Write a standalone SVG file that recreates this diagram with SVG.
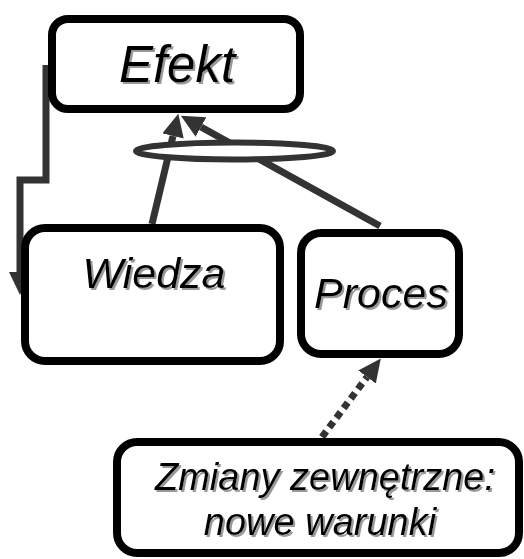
<svg xmlns="http://www.w3.org/2000/svg" width="524" height="559" viewBox="0 0 524 559">
<style>
.box{fill:#fff;stroke:#000;stroke-width:8}
.lbl{font-family:"Liberation Sans",Arial,sans-serif;font-style:italic;fill:#000;text-anchor:middle;filter:url(#sh)}
.con{fill:none;stroke:#333;stroke-width:7}
</style>
<defs>
<filter id="sh" x="-10%" y="-20%" width="130%" height="150%">
<feDropShadow dx="2" dy="2" stdDeviation="0.6" flood-color="#999" flood-opacity="1"/>
</filter>
<marker id="ah" markerUnits="userSpaceOnUse" markerWidth="24" markerHeight="24" viewBox="0 0 24 24" refX="0" refY="11" orient="auto">
<path d="M0,0 L23,11 L0,22 z" fill="#333"/>
</marker>
</defs>
<g id="connectors">
<polyline class="con" points="46,65 46,180 20,180 20,272" stroke-linejoin="miter" marker-end="url(#ah)"/>
<line class="con" x1="152" y1="224" x2="173" y2="136" marker-end="url(#ah)"/>
<line class="con" x1="380" y1="226" x2="201" y2="127" marker-end="url(#ah)"/>
<line class="con" x1="322" y1="437" x2="367" y2="377" stroke-dasharray="7 5" marker-end="url(#ah)"/>
<ellipse cx="234.5" cy="151" rx="98.5" ry="8.5" fill="#fff" stroke="#333" stroke-width="6"/>
</g>
<g id="efekt">
<rect class="box" x="52" y="19" width="248" height="90" rx="16"/>
<text class="lbl" x="177" y="82" font-size="51">Efekt</text>
</g>
<g id="wiedza">
<rect class="box" x="25" y="228" width="255" height="133" rx="20"/>
<text class="lbl" x="154" y="288" font-size="43">Wiedza</text>
</g>
<g id="proces">
<rect class="box" x="301" y="233" width="158" height="121" rx="20"/>
<text class="lbl" x="381" y="308" font-size="43">Proces</text>
</g>
<g id="zmiany">
<rect class="box" x="117" y="442" width="402" height="111" rx="20"/>
<text class="lbl" x="325" y="490" font-size="38">Zmiany zewnętrzne:</text>
<text class="lbl" x="320" y="535" font-size="38">nowe warunki</text>
</g>
</svg>
